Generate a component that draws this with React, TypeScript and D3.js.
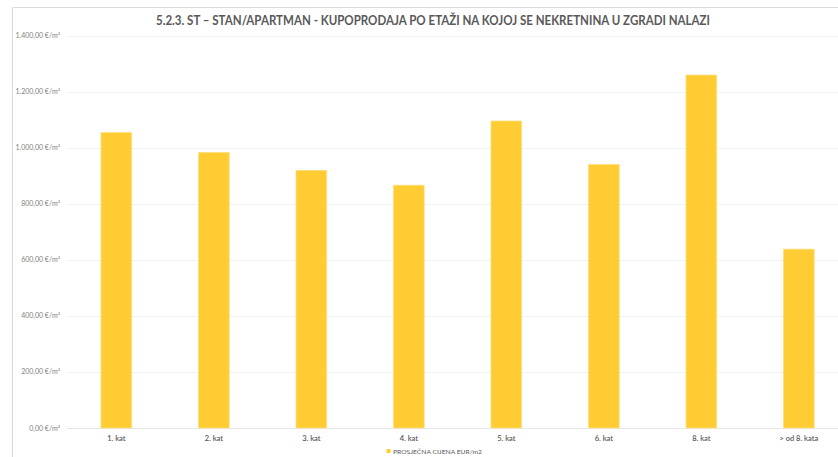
import React from "react";
import * as d3 from "d3";

const categories = ["1. kat", "2. kat", "3. kat", "4. kat", "5. kat", "6. kat", "8. kat", "> od 8. kata"];
const values = [1054, 983, 919, 866, 1095, 940, 1259, 638];
const yTicks = [0, 200, 400, 600, 800, 1000, 1200, 1400];
const title = "5.2.3. ST – STAN/APARTMAN - KUPOPRODAJA PO ETAŽI NA KOJOJ SE NEKRETNINA U ZGRADI NALAZI";
const seriesName = "PROSJEČNA CIJENA EUR/m2";

const W = 838;
const H = 457;
const FONT = "Lato, 'Open Sans', sans-serif";

const fmt = (v: number) => {
  const s = v.toFixed(2).replace(".", ",");
  const [i, d] = s.split(",");
  const ii = i.replace(/\B(?=(\d{3})+(?!\d))/g, ".");
  return `${ii},${d} €/m²`;
};

export default function App() {
  const x = d3.scaleBand<string>().domain(categories).range([67.6, 847.6]).paddingInner(0.685).paddingOuter(0.3425);
  const y = d3.scaleLinear().domain([0, 1400]).range([428, 35.5]);

  return (
    <svg width={W} height={H} style={{ position: "absolute", left: 0, top: 0, background: "#fff" }} fontFamily={FONT}>
      <rect x={0} y={0} width={W} height={H} fill="#fff" />
      {/* chart area border */}
      <line x1={12.5} x2={W} y1={7.5} y2={7.5} stroke="#d9d9d9" strokeWidth={1} />
      <line x1={12.5} x2={12.5} y1={7.5} y2={H} stroke="#d9d9d9" strokeWidth={1} />
      {/* title */}
      <text x={433} y={25} textAnchor="middle" fontSize={13} fontWeight={700} fill="#595959" textLength={554} lengthAdjust="spacingAndGlyphs">
        {title}
      </text>
      {/* gridlines */}
      {yTicks.map((t) => (
        <g key={t}>
          <line x1={67} x2={W} y1={Math.round(y(t)) + 0.5} y2={Math.round(y(t)) + 0.5} stroke={t === 0 ? "#e6e6e6" : "#f2f2f2"} strokeWidth={1} />
          <text x={60} y={y(t) + 2.5} textAnchor="end" fontSize={7} fill="#7f7f7f">
            {fmt(t)}
          </text>
        </g>
      ))}
      {/* bars */}
      {categories.map((c, i) => (
        <rect
          key={c}
          x={x(c)!}
          y={y(values[i])}
          width={x.bandwidth()}
          height={y(0) - y(values[i])}
          fill="#ffcc33"
          stroke="#ffdf80"
          strokeWidth={0.75}
        />
      ))}
      {/* category labels */}
      {categories.map((c) => (
        <text key={c} x={x(c)! + x.bandwidth() / 2} y={441} textAnchor="middle" fontSize={7.5} fontWeight={600} fill="#595959">
          {c}
        </text>
      ))}
      {/* legend */}
      <rect x={386.5} y={449} width={4} height={4} fill="#ffcc33" />
      <text x={393} y={454} fontSize={6.5} fill="#595959" textLength={89} lengthAdjust="spacingAndGlyphs">
        {seriesName}
      </text>
    </svg>
  );
}
